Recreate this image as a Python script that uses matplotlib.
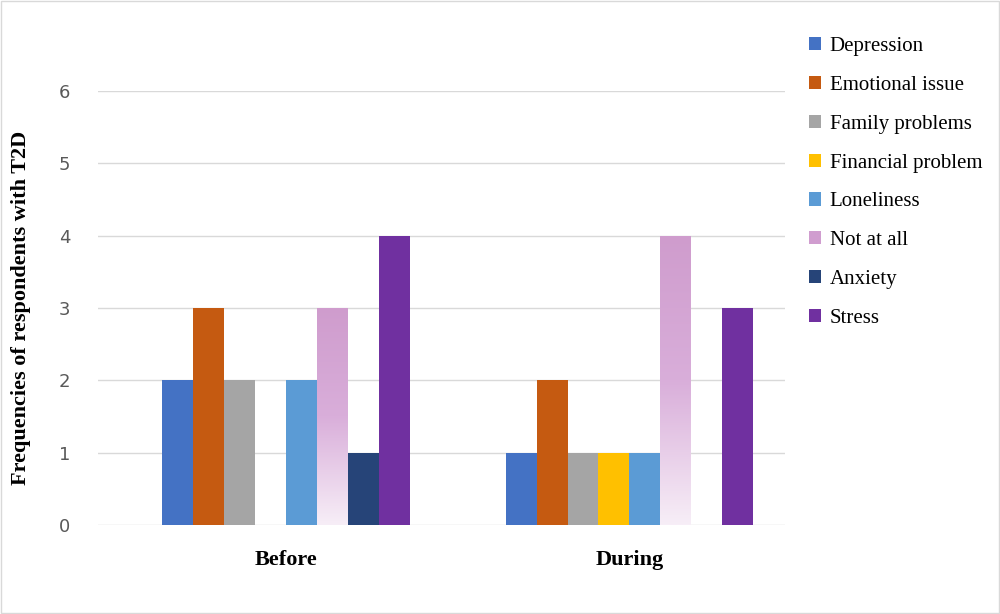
import matplotlib
matplotlib.use("Agg")
import matplotlib.pyplot as plt
import numpy as np
from matplotlib.colors import LinearSegmentedColormap
from matplotlib.patches import Patch

categories = ["Before", "During"]
series = ["Depression", "Emotional issue", "Family problems", "Financial problem",
          "Loneliness", "Not at all", "Anxiety", "Stress"]
values = {
    "Depression": [2, 1],
    "Emotional issue": [3, 2],
    "Family problems": [2, 1],
    "Financial problem": [0, 1],
    "Loneliness": [2, 1],
    "Not at all": [3, 4],
    "Anxiety": [1, 0],
    "Stress": [4, 3],
}
colors = ["#4472C4", "#C55A11", "#A5A5A5", "#FFC000", "#5B9BD5", "#D09DCF", "#264478", "#7030A0"]

fig = plt.figure(figsize=(10, 6.14), dpi=100)
fig.patches.append(plt.Rectangle((0.001, 0.001), 0.998, 0.997, transform=fig.transFigure,
                                 fill=False, edgecolor="#D9D9D9", lw=1))
ax = fig.add_axes([0.098, 0.145, 0.687, 0.707])
w = 0.09
x = np.arange(len(categories))
shift = 0.047
cmap = LinearSegmentedColormap.from_list("g", ["#F7EEF7", "#D9AEDA", "#CF9CCD"])
for i, s in enumerate(series):
    pos = x + shift + (i - 3.5) * w
    bars = ax.bar(pos, values[s], w, color=colors[i], zorder=3, label=s)
    if s == "Not at all":
        for b in bars:
            b.set_facecolor("none")
            h = b.get_height()
            if h <= 0:
                continue
            grad = np.linspace(1, 0, 256).reshape(-1, 1)
            im = ax.imshow(grad, cmap=cmap, aspect="auto", zorder=3,
                           extent=[b.get_x(), b.get_x() + w, 0, h])
            im.set_clip_path(b)

ax.set_xlim(-0.5, 1.5)
ax.set_ylim(0, 6)
ax.set_yticks(range(7))
ax.yaxis.grid(True, color="#D9D9D9", lw=1, zorder=0)
for sp in ax.spines.values():
    sp.set_visible(False)
ax.tick_params(axis="both", length=0)
ax.tick_params(axis="y", labelsize=13, labelcolor="#595959", pad=20)
ax.tick_params(axis="x", pad=18)
ax.set_xticks(x + shift)
ax.set_xticklabels(categories, fontfamily="Liberation Serif", fontweight="bold", fontsize=16)
ax.set_ylabel("Frequencies of respondents with T2D", fontfamily="Liberation Serif",
              fontweight="bold", fontsize=16, labelpad=20)

handles = [Patch(facecolor=c, label=s) for c, s in zip(colors, series)]
fig.legend(handles=handles, loc="upper left", bbox_to_anchor=(0.79, 0.97), frameon=False,
           prop={"family": "Liberation Serif", "size": 15}, handlelength=0.6, handleheight=0.6,
           handletextpad=0.4, labelspacing=0.95)
fig.savefig("out.png", dpi=100)
